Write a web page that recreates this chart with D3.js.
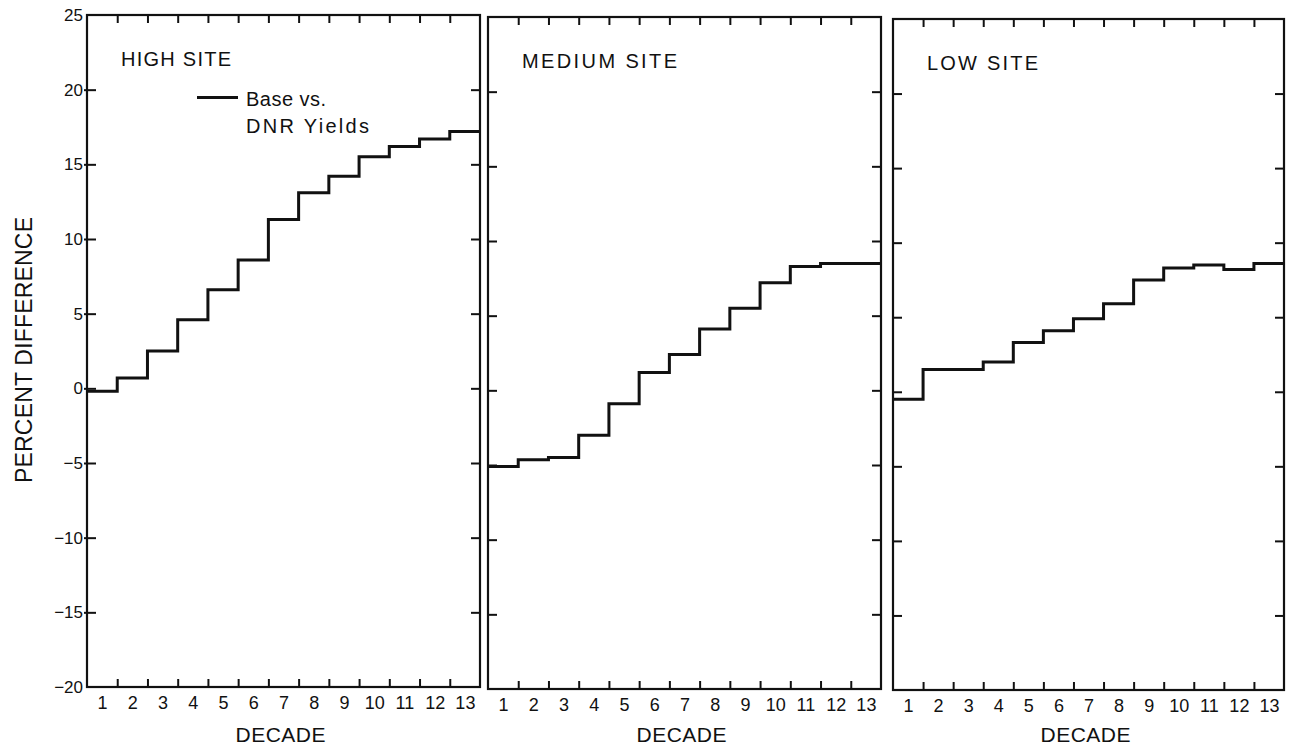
<!DOCTYPE html>
<html><head><meta charset="utf-8">
<script src="https://cdn.jsdelivr.net/npm/d3@7"></script>
<style>
body{margin:0;background:#fff}
svg text{font-family:"Liberation Sans",Arial,sans-serif;fill:#111}
</style>
</head><body>
<svg id="chart" width="1297" height="752"></svg>
<script>
// ---------------- data ----------------
const decades = ["1","2","3","4","5","6","7","8","9","10","11","12","13"];
const panelTitles = ["HIGH SITE","MEDIUM SITE","LOW SITE"];
const highSite   = [-0.2, 0.7, 2.5, 4.6, 6.6, 8.6, 11.3, 13.1, 14.2, 15.5, 16.2, 16.7, 17.2];
const mediumSite = [-5.1, -4.65, -4.5, -3.0, -0.9, 1.2, 2.4, 4.1, 5.5, 7.2, 8.3, 8.5, 8.5];
const lowSite    = [-0.5, 1.5, 1.5, 2.0, 3.3, 4.1, 4.9, 5.9, 7.5, 8.3, 8.5, 8.2, 8.6];
const yTickValues = [-20, -15, -10, -5, 0, 5, 10, 15, 20, 25];
const yTickLabels = ["−20", "−15", "−10", "−5", "0", "5", "10", "15", "20", "25"];
const yLabel = "PERCENT DIFFERENCE";
const xLabel = "DECADE";
const legendLines = ["Base vs.", "DNR Yields"];

// ---------------- layout ----------------
const series = [highSite, mediumSite, lowSite];
const panels = [
  {left: 87,  right: 480,  top: 15, bottom: 687},
  {left: 488, right: 881,  top: 17, bottom: 689},
  {left: 893, right: 1284, top: 19, bottom: 690}
];
const titleWidths = [110, 155, 111];
const ink = "#111";

const svg = d3.select("#chart");
svg.append("rect").attr("width", 1297).attr("height", 752).attr("fill", "#fff");

function styleAxis(g) {
  g.select(".domain").remove();
  g.selectAll(".tick line").attr("stroke", ink).attr("stroke-width", 2);
  g.attr("font-family", null).attr("font-size", null);
}

panels.forEach((p, pi) => {
  const x = d3.scaleLinear().domain([0, 13]).range([p.left, p.right]);
  const y = d3.scaleLinear().domain([-20, 25]).range([p.bottom, p.top]);
  const g = svg.append("g");

  // frame
  g.append("rect")
    .attr("x", p.left).attr("y", p.top)
    .attr("width", p.right - p.left).attr("height", p.bottom - p.top)
    .attr("fill", "none").attr("stroke", ink).attr("stroke-width", 2.2);

  const inner = d3.range(1, 13);
  // top & bottom ticks at decade boundaries (inward)
  g.append("g").attr("transform", `translate(0,${p.top})`)
    .call(d3.axisTop(x).tickValues(inner).tickSize(-8).tickFormat(""))
    .call(styleAxis);
  g.append("g").attr("transform", `translate(0,${p.bottom})`)
    .call(d3.axisBottom(x).tickValues(inner).tickSize(-8).tickFormat(""))
    .call(styleAxis);

  // decade labels centred in each decade
  const lab = g.append("g").attr("transform", `translate(0,${p.bottom})`)
    .call(d3.axisBottom(x).tickValues(d3.range(13).map(i => i + 0.5))
      .tickSize(0).tickPadding(6).tickFormat((d, i) => decades[i]))
    .call(styleAxis);
  lab.selectAll("text").attr("font-size", 18).attr("dy", "0.9em");

  // left ticks (with labels only on first panel)
  const inY = [-15, -10, -5, 0, 5, 10, 15, 20];
  const la = g.append("g").attr("transform", `translate(${p.left},0)`)
    .call(d3.axisLeft(y).tickValues(pi === 0 ? yTickValues : inY).tickSize(-9).tickPadding(4)
      .tickFormat(pi === 0 ? ((d) => yTickLabels[yTickValues.indexOf(d)]) : ""))
    .call(styleAxis);
  la.selectAll("text").attr("font-size", 17);
  if (pi === 0) {
    la.selectAll(".tick").filter(d => d === 25 || d === -20).select("line").remove();
    la.selectAll(".tick").filter(d => d !== 25 && d !== -20).append("line")
      .attr("x1", -3).attr("x2", 0).attr("stroke", ink).attr("stroke-width", 2);
  }
  // right ticks
  g.append("g").attr("transform", `translate(${p.right},0)`)
    .call(d3.axisRight(y).tickValues(inY).tickSize(-9).tickFormat(""))
    .call(styleAxis);

  // step line
  const vals = series[pi];
  const pts = vals.map((v, i) => [i, v]).concat([[13, vals[12]]]);
  const line = d3.line().x(d => x(d[0])).y(d => y(d[1])).curve(d3.curveStepAfter);
  g.append("path").attr("d", line(pts))
    .attr("fill", "none").attr("stroke", ink).attr("stroke-width", 3)
    .attr("stroke-linejoin", "miter");

  // panel title
  g.append("text").attr("x", p.left + 34).attr("y", p.top + 51)
    .attr("font-size", 20).attr("textLength", titleWidths[pi]).attr("lengthAdjust", "spacing")
    .text(panelTitles[pi]);

  // x title
  g.append("text").attr("x", (p.left + p.right) / 2 - 3).attr("y", 742)
    .attr("text-anchor", "middle").attr("font-size", 21)
    .attr("textLength", 90).attr("lengthAdjust", "spacing")
    .text(xLabel);

  // legend in first panel
  if (pi === 0) {
    g.append("line").attr("x1", 197).attr("x2", 238).attr("y1", 97.5).attr("y2", 97.5)
      .attr("stroke", ink).attr("stroke-width", 3);
    g.append("text").attr("x", 246).attr("y", 106).attr("font-size", 20)
      .attr("textLength", 80).attr("lengthAdjust", "spacing").text(legendLines[0]);
    g.append("text").attr("x", 246).attr("y", 133).attr("font-size", 20)
      .attr("textLength", 123).attr("lengthAdjust", "spacing").text(legendLines[1]);
  }
});

// y title
svg.append("text")
  .attr("transform", "translate(32,350) rotate(-90)")
  .attr("text-anchor", "middle").attr("font-size", 23)
  .attr("textLength", 266).attr("lengthAdjust", "spacing")
  .text(yLabel);
</script>
</body></html>
